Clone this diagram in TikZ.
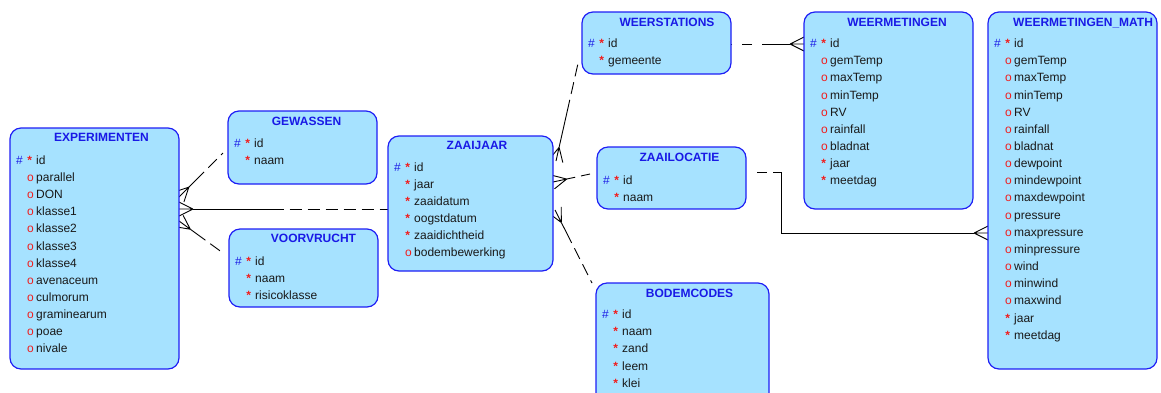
\documentclass[tikz,border=0pt]{standalone}
\usepackage{fontspec}
\setmainfont{Liberation Sans}
\usetikzlibrary{calc,fit}

\definecolor{entfill}{RGB}{166,226,255}
\definecolor{entedge}{RGB}{30,30,245}
\definecolor{enttitle}{RGB}{25,25,230}
\definecolor{markred}{RGB}{240,30,30}
\definecolor{pkblue}{RGB}{30,30,230}
\definecolor{attrink}{RGB}{25,25,25}

\pgfdeclarelayer{links}
\pgfsetlayers{links,main}

\tikzset{
  entbox/.style={draw=entedge, fill=entfill, line width=1.2pt, rounded corners=11pt,
                 inner sep=0pt, outer sep=0pt},
  enttitle/.style={text=enttitle, font=\bfseries\fontsize{12}{14}\selectfont,
                   inner sep=0pt, anchor=base},
  attr/.style={text=attrink, font=\fontsize{12}{14}\selectfont, inner sep=0pt, anchor=base west},
  pkmark/.style={text=pkblue, font=\fontsize{12}{14}\selectfont, inner sep=0pt, anchor=base},
  reqmark/.style={text=markred, font=\bfseries\fontsize{12}{14}\selectfont, inner sep=0pt, anchor=base},
  optmark/.style={text=markred, font=\fontsize{12}{14}\selectfont, inner sep=0pt, anchor=base},
  link/.style={draw=black, line width=0.9pt},
  optpart/.style={dash pattern=on 12pt off 6pt, dash phase=12pt},
}

% entity box: name, left, top, right, bottom
\newcommand\entbox[5]{%
  \node[entbox, fit={(#2,#3) (#4,#5)}] (#1) {};}

% attribute rows: prefix, box left, first baseline, list of kind/text
% kind 0 = identifier (# *), 1 = mandatory (*), 2 = optional (o)
\newcommand\entrows[4]{%
  \foreach [count=\i] \k/\s in {#4}{%
    \pgfmathsetmacro\yy{#3+(\i-1)*17.15}%
    \ifnum\k=0 \node[pkmark] (#1-h\i) at (#2+9.5,\yy) {\#};\fi
    \ifnum\k=2 \node[optmark] (#1-m\i) at (#2+20.5,\yy) {o};%
    \else \node[reqmark] (#1-m\i) at (#2+19.8,\yy) {*};\fi
    \node[attr] (#1-\i) at (#2+26,\yy) {\s};
  }}

% crow's foot at the "many" end #1, line heading towards #2
\newcommand\crow[2]{%
  \draw[link] ($(#1)!14pt!(#2)$) -- (#1)
              ($(#1)!14pt!(#2)$) -- ($(#1)!7pt!90:(#2)$)
              ($(#1)!14pt!(#2)$) -- ($(#1)!7pt!-90:(#2)$);}

% relationship: many end, one end, fraction drawn solid
\newcommand\relation[3]{%
  \crow{#1}{#2}
  \draw[link] ($(#1)!14pt!(#2)$) -- ($(#1)!#3!(#2)$);
  \draw[link, optpart] ($(#1)!#3!(#2)$) -- (#2);}

\begin{document}
\begin{tikzpicture}[x=1pt, y=-1pt]
\useasboundingbox (0,0) rectangle (1161,392);
\clip (0,0) rectangle (1161,392);

% ---------- entities ----------
\entbox{exp}{10}{128}{179}{369}
\node[enttitle] (exp-t) at (101.5,141.6) {EXPERIMENTEN};
\entrows{exp}{10}{164.3}{0/id,2/parallel,2/DON,2/klasse1,2/klasse2,2/klasse3,2/klasse4,2/avenaceum,2/culmorum,2/graminearum,2/poae,2/nivale}

\entbox{gew}{228}{111}{377}{184}
\node[enttitle] (gew-t) at (306.5,125.3) {GEWASSEN};
\entrows{gew}{228}{147}{0/id,1/naam}

\entbox{voor}{229}{229}{378}{307}
\node[enttitle] (voor-t) at (313.5,242.6) {VOORVRUCHT};
\entrows{voor}{229}{265.3}{0/id,1/naam,1/risicoklasse}

\entbox{zaai}{388}{136}{553}{271}
\node[enttitle] (zaai-t) at (477,149.3) {ZAAIJAAR};
\entrows{zaai}{388}{171}{0/id,1/jaar,1/zaaidatum,1/oogstdatum,1/zaaidichtheid,2/bodembewerking}

\entbox{weerst}{582}{12}{731}{74}
\node[enttitle] (weerst-t) at (667,26) {WEERSTATIONS};
\entrows{weerst}{582}{47.6}{0/id,1/gemeente}

\entbox{zloc}{597}{147}{746}{209}
\node[enttitle] (zloc-t) at (679.5,161) {ZAAILOCATIE};
\entrows{zloc}{597}{184.3}{0/id,1/naam}

\entbox{bodem}{596}{283}{769}{410}
\node[enttitle] (bodem-t) at (689.5,297) {BODEMCODES};
\entrows{bodem}{596}{318.6}{0/id,1/naam,1/zand,1/leem,1/klei}

\entbox{wmet}{804}{12}{973}{209}
\node[enttitle] (wmet-t) at (897,26) {WEERMETINGEN};
\entrows{wmet}{804}{47.6}{0/id,2/gemTemp,2/maxTemp,2/minTemp,2/RV,2/rainfall,2/bladnat,1/jaar,1/meetdag}

\entbox{wmath}{988}{12}{1157}{369}
\node[enttitle, anchor=base west] (wmath-t) at (1013,26) {WEERMETINGEN\_MATH};
\entrows{wmath}{988}{47.6}{0/id,2/gemTemp,2/maxTemp,2/minTemp,2/RV,2/rainfall,2/bladnat,2/dewpoint,2/mindewpoint,2/maxdewpoint,2/pressure,2/maxpressure,2/minpressure,2/wind,2/minwind,2/maxwind,1/jaar,1/meetdag}

% ---------- relationships ----------
\begin{pgfonlayer}{links}
  % EXPERIMENTEN -- GEWASSEN
  \coordinate (r1a) at ($(exp.north east)+(0,69)$);
  \coordinate (r1b) at ($(gew.north west)+(-5,42)$);
  \relation{r1a}{r1b}{0.57}
  % EXPERIMENTEN -- ZAAIJAAR
  \coordinate (r2a) at ($(exp.north east)+(0,81)$);
  \coordinate (r2b) at ($(zaai.north west)+(0,73)$);
  \relation{r2a}{r2b}{0.5}
  % EXPERIMENTEN -- VOORVRUCHT
  \coordinate (r3a) at ($(exp.north east)+(0,93)$);
  \coordinate (r3b) at ($(voor.north west)+(-6,24)$);
  \relation{r3a}{r3b}{0.6}
  % ZAAIJAAR -- WEERSTATIONS
  \coordinate (r4a) at ($(zaai.north east)+(3,25)$);
  \coordinate (r4b) at ($(weerst.north west)+(-3,47)$);
  \relation{r4a}{r4b}{0.6}
  % ZAAIJAAR -- ZAAILOCATIE
  \coordinate (r5a) at ($(zaai.north east)+(0,46)$);
  \coordinate (r5b) at ($(zloc.north west)+(-7,27)$);
  \relation{r5a}{r5b}{0.6}
  % ZAAIJAAR -- BODEMCODES
  \coordinate (r6a) at ($(zaai.north east)+(2,74)$);
  \coordinate (r6b) at ($(bodem.north west)+(-4,0)$);
  \relation{r6a}{r6b}{0.45}
  % WEERSTATIONS -- WEERMETINGEN
  \coordinate (r7a) at ($(wmet.north west)+(0,32)$);
  \coordinate (r7b) at ($(weerst.north east)+(0,32)$);
  \crow{r7a}{r7b}
  \draw[link] ($(r7a)!14pt!(r7b)$) -- ($(r7b)+(31,0)$);
  \draw[link, dash pattern=on 10pt off 10pt, dash phase=10pt] ($(r7b)+(31,0)$) -- (r7b);
  % ZAAILOCATIE -- WEERMETINGEN_MATH
  \coordinate (r8a) at ($(zloc.north east)+(0,25)$);
  \coordinate (r8b) at ($(wmath.north west)+(0,221)$);
  \coordinate (r8k1) at ($(r8a)+(35,0)$);
  \coordinate (r8k2) at (r8k1 |- r8b);
  \draw[link, dash pattern=on 10pt off 11pt, dash phase=10pt] (r8a) -- ($(r8a)+(27,0)$);
  \draw[link] ($(r8a)+(27,0)$) -- (r8k1) -- (r8k2) -- ($(r8b)!14pt!(r8k2)$);
  \crow{r8b}{r8k2}
\end{pgfonlayer}
\end{tikzpicture}
\end{document}
